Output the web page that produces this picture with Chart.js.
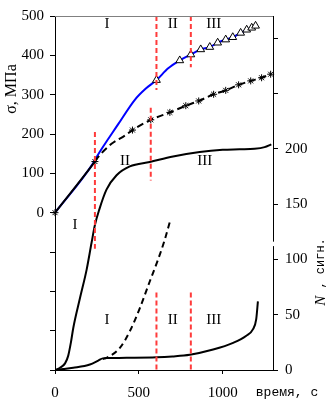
<!DOCTYPE html>
<html>
<head>
<meta charset="utf-8">
<script src="https://cdn.jsdelivr.net/npm/chart.js@4"></script>
<style>
  html, body { margin: 0; padding: 0; background: #fff; }
  #wrap { width: 327px; height: 404px; }
</style>
</head>
<body>
<div id="wrap"><canvas id="chart"></canvas></div>
<script>
// σ (МПа) curves, left axis
const blueT   = [0, 225, 250, 377, 476, 540, 605, 675, 744, 810, 869, 923, 970, 1018, 1060, 1107, 1143, 1173, 1196];
const blueS   = [0, 124, 143, 225, 287, 315, 337, 367, 387, 402, 415, 421, 432, 440, 446, 457, 465, 470, 475];
const triT    = [605, 744, 810, 869, 923, 970, 1018, 1060, 1107, 1143, 1173, 1196];
const triS    = [337, 387, 402, 415, 421, 432, 440, 446, 457, 465, 470, 475];
const blackT  = [0, 238, 258, 337, 417, 462, 571, 685, 780, 857, 946, 1018, 1095, 1167, 1232, 1286];
const blackS  = [0, 130, 142, 175, 196, 210, 236, 255, 272, 284, 301, 311, 325, 335, 343, 352];
const starT   = [0, 238, 462, 571, 685, 780, 857, 946, 1018, 1095, 1167, 1232, 1286];
const starS   = [0, 130, 210, 236, 255, 272, 284, 301, 311, 325, 335, 343, 352];

// N (сигн.) curves, right axis
const nUpT    = [0, 30, 60, 79, 95, 109, 149, 189, 218, 238, 264, 307, 367, 446, 565, 704, 863, 1000, 1100, 1190, 1250, 1290];
const nUpN    = [0, 2, 6, 13, 25, 38, 65, 91, 115, 131, 145, 163, 176, 184, 188, 193, 197, 199, 199.5, 200, 201.5, 204];
const nDashT  = [285, 307, 387, 446, 506, 565, 615, 655, 685];
const nDashN  = [10, 11, 20, 35, 56, 80, 100, 118, 134];
const nLowT   = [0, 50, 109, 208, 258, 285, 320, 427, 605, 700, 804, 943, 1062, 1141, 1181, 1200, 1210];
const nLowN   = [0, 0.8, 2, 5, 8.5, 10.5, 10.8, 11, 11.5, 12.3, 13.8, 18.5, 24.5, 31, 37, 46, 62];

// red stage boundaries
const redST    = [238, 571, 605, 810];
const redSFrom = [205, 267, 500, 500];
const redSTo   = [-92, 82, 312, 370];
const redNT    = [605, 810];
const redNFrom = [70, 70];
const redNTo   = [0, 0];

// stage labels
const zoneText = ['I', 'II', 'III', 'I', 'II', 'III', 'I', 'II', 'III'];
const zoneT    = [310, 702, 946, 119, 417, 893, 310, 702, 946];
const zoneV    = [480, 480, 480, -32, 132, 132, 45, 45, 45];
const zoneAxis = ['y', 'y', 'y', 'y', 'y', 'y', 'y2', 'y2', 'y2'];

const timeTicks = [0, 500, 1000];
const sigmaTickPos = [-400, -300, -200, -100, 0, 100, 200, 300, 400, 500];
const sigmaTicks = [0, 100, 200, 300, 400, 500];
const nTickPos = [0, 50, 100, 150, 200, 250, 300];
const nTicks = [0, 50, 100, 150, 200];

const pts = (xs, ys) => xs.map((x, i) => ({ x: x, y: ys[i] }));
const RED = '#ff3b3b';

const datasets = [];
redST.forEach((t, i) => datasets.push({
  data: pts([t, t], [redSFrom[i], redSTo[i]]), yAxisID: 'y',
  borderColor: RED, borderWidth: 2, borderDash: [5, 3], pointRadius: 0
}));
redNT.forEach((t, i) => datasets.push({
  data: pts([t, t], [redNFrom[i], redNTo[i]]), yAxisID: 'y2',
  borderColor: RED, borderWidth: 2, borderDash: [5, 3], pointRadius: 0
}));
datasets.push(
  { data: pts(triT, triS), yAxisID: 'y', showLine: false, pointStyle: 'triangle', clip: false,
    pointRadius: 4.5, pointBackgroundColor: '#fff', pointBorderColor: '#000', pointBorderWidth: 1 },
  { data: pts(starT, starS), yAxisID: 'y', showLine: false, pointStyle: 'star', clip: false,
    pointRadius: 3.5, pointBorderColor: '#000', pointBorderWidth: 1 },
  { data: pts(blackT, blackS), yAxisID: 'y', borderColor: '#000', borderWidth: 2,
    pointRadius: 0, cubicInterpolationMode: 'monotone',
    segment: { borderDash: c => c.p0.parsed.x < 200 ? undefined : [7, 4] } },
  { data: pts(blueT, blueS), yAxisID: 'y', borderColor: '#0000ff', borderWidth: 2,
    pointRadius: 0, cubicInterpolationMode: 'monotone' },
  { data: pts(nUpT, nUpN), yAxisID: 'y2', borderColor: '#000', borderWidth: 2,
    pointRadius: 0, cubicInterpolationMode: 'monotone' },
  { data: pts(nDashT, nDashN), yAxisID: 'y2', borderColor: '#000', borderWidth: 2,
    borderDash: [6, 4], pointRadius: 0, cubicInterpolationMode: 'monotone' },
  { data: pts(nLowT, nLowN), yAxisID: 'y2', borderColor: '#000', borderWidth: 2,
    pointRadius: 0, cubicInterpolationMode: 'monotone' }
);

const decor = {
  id: 'decor',
  afterDraw(chart) {
    const { ctx, chartArea: a, scales } = chart;
    ctx.save();
    // grey top frame
    ctx.strokeStyle = '#808080';
    ctx.lineWidth = 1;
    ctx.beginPath();
    ctx.moveTo(a.left, a.top + 0.5);
    ctx.lineTo(a.right, a.top + 0.5);
    ctx.stroke();
    // small break in the right axis
    const y2 = scales.y2;
    const g1 = y2.getPixelForValue(116), g2 = y2.getPixelForValue(112);
    ctx.fillStyle = '#fff';
    ctx.fillRect(a.right - 2, g1, 4, g2 - g1);

    // stage labels
    ctx.fillStyle = '#000';
    ctx.font = '15px "Liberation Serif"';
    ctx.textAlign = 'center';
    ctx.textBaseline = 'middle';
    zoneText.forEach((s, i) => {
      ctx.fillText(s, scales.x.getPixelForValue(zoneT[i]), scales[zoneAxis[i]].getPixelForValue(zoneV[i]));
    });

    // axis titles
    ctx.save();
    ctx.translate(12, 89);
    ctx.rotate(-Math.PI / 2);
    ctx.font = '16px "Liberation Serif"';
    ctx.fillText('σ, МПа', 0, 0);
    ctx.restore();

    ctx.save();
    ctx.translate(321, 272);
    ctx.rotate(-Math.PI / 2);
    ctx.font = 'italic 15px "Liberation Serif"';
    const nW = ctx.measureText('N').width;
    ctx.font = '12px "Liberation Mono"';
    const rest = ' , сигн.';
    const rW = ctx.measureText(rest).width;
    const x0 = -(nW + rW) / 2;
    ctx.textAlign = 'left';
    ctx.font = 'italic 15px "Liberation Serif"';
    ctx.fillText('N', x0, 0);
    ctx.font = '12px "Liberation Mono"';
    ctx.fillText(rest, x0 + nW, 0);
    ctx.restore();

    ctx.font = '13px "Liberation Mono"';
    ctx.textAlign = 'center';
    ctx.fillText('время, с', 287, 393);
    ctx.restore();
  }
};

Chart.defaults.font.family = '"Liberation Serif"';
Chart.defaults.font.size = 15;
Chart.defaults.color = '#000';

const fixTicks = list => s => { s.ticks = list.map(v => ({ value: v })); };

new Chart(document.getElementById('chart'), {
  type: 'line',
  data: { datasets: datasets },
  options: {
    responsive: true,
    maintainAspectRatio: false,
    animation: false,
    layout: { padding: { top: 10, left: 0, right: 0, bottom: 0 } },
    plugins: { legend: { display: false }, tooltip: { enabled: false } },
    scales: {
      x: {
        type: 'linear', min: 0, max: 1300,
        grid: { drawOnChartArea: false, tickLength: 4, color: '#000' },
        border: { color: '#000' },
        ticks: { padding: 10, maxRotation: 0, autoSkip: false, callback: v => String(v) },
        afterBuildTicks: fixTicks(timeTicks),
        afterFit: s => { s.height = 34; }
      },
      y: {
        position: 'left', min: -400, max: 500,
        grid: { drawOnChartArea: false, tickLength: 5, color: '#000' },
        border: { color: '#000' },
        ticks: { padding: 6, autoSkip: false, callback: v => sigmaTicks.includes(v) ? String(v) : '' },
        afterBuildTicks: fixTicks(sigmaTickPos),
        afterFit: s => { s.width = 55; }
      },
      y2: {
        position: 'right', min: 0, max: 320,
        grid: { drawOnChartArea: false, tickLength: 5, color: '#000' },
        border: { color: '#000' },
        ticks: { padding: 7, autoSkip: false, callback: v => nTicks.includes(v) ? String(v) : '' },
        afterBuildTicks: fixTicks(nTickPos),
        afterFit: s => { s.width = 54; }
      }
    }
  },
  plugins: [decor]
});
</script>
</body>
</html>
